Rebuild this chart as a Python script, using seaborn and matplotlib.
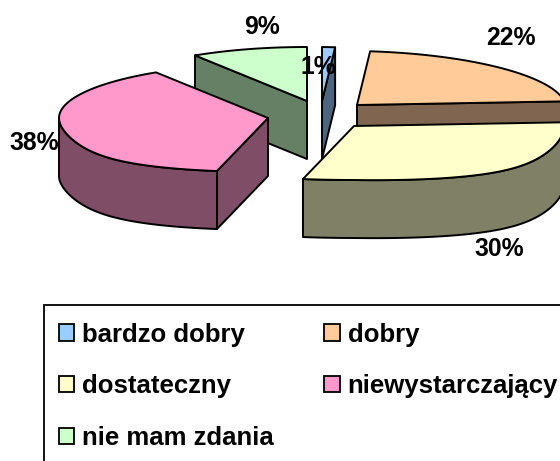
import numpy as np
import matplotlib
matplotlib.use("Agg")
import matplotlib.pyplot as plt
from matplotlib.patches import Polygon, Rectangle, Patch
import seaborn as sns

categories = ["bardzo dobry", "dobry", "dostateczny", "niewystarczający", "nie mam zdania"]
values = [1, 22, 30, 38, 9]
top_colors = ["#99CCFF", "#FFCC99", "#FFFFCC", "#FF99CC", "#CCFFCC"]
side_colors = ["#4D6680", "#806650", "#808066", "#804D66", "#668066"]
apexes = [(322, 101), (357, 105), (354, 126), (268, 118), (307, 101)]
label_pos = [(318, 67), (511, 38), (499, 249), (34, 143), (262, 27)]

A, B, DEPTH, LW = 209, 54, 58, 1.4

sns.set_theme(style="white")
plt.rcParams["font.family"] = ["Liberation Sans", "DejaVu Sans"]
palette = sns.color_palette(top_colors)

fig = plt.figure(figsize=(5.6, 4.61), dpi=100, facecolor="white")
ax = fig.add_axes([0, 0, 1, 1])
ax.set_xlim(0, 560)
ax.set_ylim(461, 0)
ax.axis("off")


def pt(apex, deg):
    t = np.deg2rad(deg)
    s, c = np.sin(t), np.cos(t)
    f = 1 + 0.32 * np.maximum(0, -s) ** 3
    dx = A * c * f
    return np.column_stack([apex[0] + dx, apex[1] - B * s + 0.015 * np.maximum(dx, 0)])


def poly(xy, color, z):
    ax.add_patch(Polygon(xy, closed=True, facecolor=color, edgecolor="black",
                         linewidth=LW, joinstyle="round", zorder=z))


edges = 90 - 3.6 * np.cumsum([0] + values)
order_z = {4: 1, 0: 2, 3: 3, 1: 4, 2: 5}
down = np.array([0, DEPTH])

for i in range(len(values)):
    a0, a1 = edges[i], edges[i + 1]
    ap = apexes[i]
    z = order_z[i]
    arc = pt(ap, np.linspace(a0, a1, 80))
    apex_xy = np.array([ap], dtype=float)
    start = pt(ap, np.array([a0]))
    end = pt(ap, np.array([a1]))
    if i in (0, 1):
        poly(np.vstack([apex_xy, end, end + down, apex_xy + down]), side_colors[i], z)
    if i in (3, 4):
        poly(np.vstack([apex_xy, start, start + down, apex_xy + down]), side_colors[i], z)
    if i == 2:
        wall = pt(ap, np.linspace(0, a1, 60))
        poly(np.vstack([wall, (wall + down)[::-1]]), side_colors[i], z)
    if i == 3:
        wall = pt(ap, np.linspace(a0, -180, 60))
        poly(np.vstack([wall, (wall + down)[::-1]]), side_colors[i], z)
    poly(np.vstack([apex_xy, arc]), palette[i], z + 0.5)
    ax.text(*label_pos[i], f"{values[i]}%", ha="center", va="center",
            fontsize=17.8, fontweight="bold", color="black", zorder=10)

ax.add_patch(Rectangle((44, 305), 700, 300, facecolor="white", edgecolor="black",
                       linewidth=1.3, zorder=11))

handles = [Patch(facecolor=palette[i], edgecolor="black", linewidth=1.3) for i in range(len(values))]
row_order = [0, 2, 4, 1, 3]
leg = ax.legend([handles[i] for i in row_order] + [Patch(visible=False)],
                [categories[i] for i in row_order] + [""],
                ncol=2, loc="upper left", bbox_to_anchor=(59 / 560, 1 - 322.5 / 461),
                frameon=False, borderpad=0, borderaxespad=0,
                prop={"size": 18.5, "weight": "bold"}, labelcolor="black",
                handlelength=0.6, handleheight=0.6, handletextpad=0.31,
                labelspacing=1.08, columnspacing=1.95)
leg.set_zorder(12)

fig.savefig("out.png", dpi=100, facecolor="white")
